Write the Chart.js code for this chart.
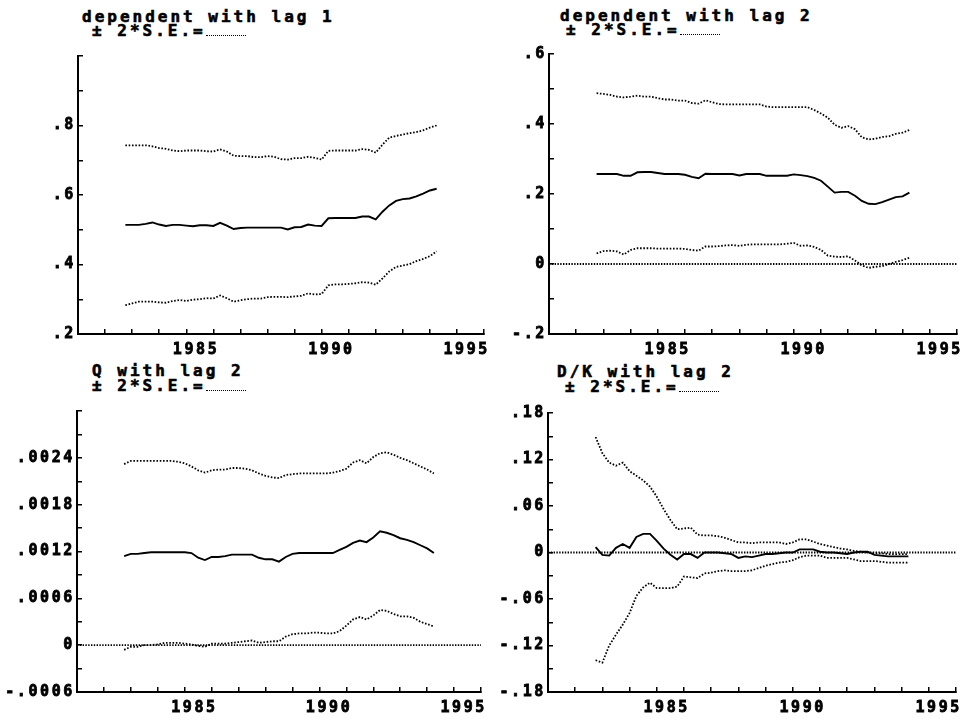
<!DOCTYPE html>
<html>
<head>
<meta charset="utf-8">
<script src="https://cdn.jsdelivr.net/npm/chart.js@4.4.0/dist/chart.umd.min.js"></script>
<style>
body { margin: 0; background: #fff; }
#page { position: relative; width: 964px; height: 720px; overflow: hidden; }
canvas { position: absolute; }
.ttl { position: absolute; font: bold 16px 'DejaVu Sans Mono', monospace; letter-spacing: 3px; line-height: 14px; white-space: pre; color: #000; -webkit-text-stroke: 0.6px #000; }
.key { display: inline-block; width: 40px; height: 0; border-bottom: 1.5px dotted #000; vertical-align: baseline; -webkit-text-stroke: 0; }
</style>
</head>
<body>
<div id="page">
  <div class="ttl" style="left:82px;top:10px">dependent with lag 1</div>
  <div class="ttl" style="left:92px;top:24px">± 2*S.E.=<span class="key"></span></div>
  <div class="ttl" style="left:560px;top:9px">dependent with lag 2</div>
  <div class="ttl" style="left:566px;top:23px">± 2*S.E.=<span class="key"></span></div>
  <div class="ttl" style="left:92px;top:364px">Q with lag 2</div>
  <div class="ttl" style="left:92px;top:379px">± 2*S.E.=<span class="key"></span></div>
  <div class="ttl" style="left:557px;top:365px">D/K with lag 2</div>
  <div class="ttl" style="left:565px;top:380px">± 2*S.E.=<span class="key"></span></div>

  <canvas id="c1" width="488" height="322" style="left:8px;top:40px"></canvas>
  <canvas id="c2" width="490" height="324" style="left:479px;top:38px"></canvas>
  <canvas id="c3" width="486" height="325" style="left:7px;top:395px"></canvas>
  <canvas id="c4" width="490" height="323" style="left:478px;top:397px"></canvas>
</div>
<script>
// quarterly dates of the recursive estimates
const years = [1981.75, 1982, 1982.25, 1982.5, 1982.75, 1983, 1983.25, 1983.5, 1983.75,
    1984, 1984.25, 1984.5, 1984.75, 1985, 1985.25, 1985.5, 1985.75, 1986, 1986.25, 1986.5, 1986.75,
    1987, 1987.25, 1987.5, 1987.75, 1988, 1988.25, 1988.5, 1988.75, 1989, 1989.25, 1989.5, 1989.75,
    1990, 1990.25, 1990.5, 1990.75, 1991, 1991.25, 1991.5, 1991.75, 1992, 1992.25, 1992.5, 1992.75,
    1993, 1993.25];

const xRange = [1980, 1995];
const xLabels = [1985, 1990, 1995];

// dependent with lag 1
const dep1 = [0.514,0.514,0.514,0.517,0.521,0.515,0.511,0.514,0.514,0.512,0.510,0.513,0.513,0.511,0.520,0.512,
    0.502,0.505,0.506,0.506,0.506,0.506,0.506,0.506,0.501,0.507,0.508,0.515,0.512,0.511,0.533,0.534,
    0.534,0.534,0.534,0.538,0.538,0.530,0.552,0.570,0.583,0.588,0.590,0.596,0.604,0.613,0.618];
const dep1Hi = [0.743,0.743,0.743,0.743,0.740,0.735,0.733,0.728,0.726,0.728,0.728,0.728,0.726,0.725,0.731,0.725,
    0.713,0.712,0.712,0.709,0.709,0.712,0.710,0.703,0.702,0.706,0.706,0.710,0.707,0.702,0.727,0.728,
    0.728,0.728,0.728,0.732,0.730,0.722,0.745,0.765,0.770,0.774,0.778,0.781,0.786,0.794,0.800];
const dep1Lo = [0.283,0.288,0.293,0.293,0.293,0.291,0.290,0.295,0.298,0.295,0.299,0.300,0.303,0.302,0.311,0.303,
    0.293,0.297,0.300,0.302,0.302,0.306,0.307,0.307,0.306,0.308,0.310,0.317,0.314,0.315,0.340,0.343,
    0.343,0.344,0.346,0.349,0.348,0.342,0.360,0.380,0.393,0.397,0.401,0.410,0.416,0.424,0.438];
const dep1Ticks = [0.2, 0.4, 0.6, 0.8];

// dependent with lag 2
const dep2 = [0.257,0.257,0.257,0.257,0.252,0.252,0.262,0.263,0.263,0.260,0.257,0.257,0.257,0.255,0.249,0.245,
    0.258,0.257,0.257,0.257,0.257,0.253,0.257,0.257,0.257,0.252,0.252,0.252,0.252,0.256,0.254,0.251,
    0.246,0.238,0.221,0.204,0.206,0.206,0.195,0.180,0.172,0.171,0.177,0.184,0.191,0.193,0.204];
const dep2Hi = [0.488,0.486,0.483,0.478,0.476,0.478,0.481,0.478,0.478,0.474,0.470,0.470,0.467,0.467,0.460,0.458,
    0.468,0.462,0.457,0.456,0.456,0.456,0.456,0.456,0.456,0.450,0.448,0.448,0.448,0.448,0.448,0.448,
    0.440,0.430,0.418,0.398,0.389,0.394,0.385,0.362,0.356,0.358,0.363,0.365,0.372,0.375,0.383];
const dep2Lo = [0.030,0.037,0.038,0.036,0.027,0.040,0.045,0.045,0.045,0.044,0.044,0.044,0.044,0.043,0.040,0.038,
    0.050,0.050,0.051,0.053,0.054,0.052,0.055,0.056,0.056,0.056,0.056,0.056,0.058,0.060,0.052,0.053,
    0.049,0.040,0.024,0.021,0.020,0.022,0.010,-0.004,-0.011,-0.008,-0.006,0.000,0.006,0.011,0.018];
const dep2Ticks = [-0.2, 0, 0.2, 0.4, 0.6];

// Q with lag 2
const q2 = [0.00114,0.00117,0.00117,0.00118,0.00119,0.00119,0.00119,0.00119,0.00119,0.00119,0.00118,0.00112,
    0.00109,0.00113,0.00113,0.00114,0.00116,0.00116,0.00116,0.00116,0.00112,0.00110,0.00110,0.00107,
    0.00113,0.00117,0.00118,0.00118,0.00118,0.00118,0.00118,0.00118,0.00122,0.00126,0.00131,0.00134,
    0.00132,0.00138,0.00146,0.00144,0.00141,0.00137,0.00135,0.00132,0.00128,0.00124,0.00118];
const q2Hi = [0.00232,0.00236,0.00236,0.00236,0.00236,0.00236,0.00236,0.00236,0.00235,0.00233,0.00229,0.00224,
    0.00221,0.00224,0.00225,0.00225,0.00227,0.00227,0.00226,0.00224,0.00220,0.00217,0.00215,0.00214,
    0.00218,0.00219,0.00220,0.00220,0.00220,0.00220,0.00220,0.00221,0.00223,0.00226,0.00234,0.00237,
    0.00233,0.00241,0.00246,0.00247,0.00244,0.00240,0.00237,0.00233,0.00229,0.00225,0.00220];
const q2Lo = [-0.00006,-0.00002,-0.00002,0.00000,0.00000,0.00001,0.00003,0.00003,0.00003,0.00002,0.00001,-0.00001,
    -0.00002,0.00002,0.00002,0.00002,0.00003,0.00004,0.00005,0.00006,0.00003,0.00004,0.00005,0.00005,
    0.00011,0.00014,0.00015,0.00015,0.00016,0.00016,0.00015,0.00015,0.00018,0.00025,0.00033,0.00036,
    0.00033,0.00038,0.00045,0.00044,0.00040,0.00037,0.00037,0.00035,0.00030,0.00027,0.00024];
const q2Ticks = [-0.0006, 0, 0.0006, 0.0012, 0.0018, 0.0024];

// D/K with lag 2
const dk2 = [0.007,-0.003,-0.004,0.006,0.011,0.006,0.020,0.024,0.024,0.015,0.005,-0.003,-0.009,-0.002,-0.002,
    -0.007,0.000,0.000,0.000,-0.001,-0.002,-0.007,-0.005,-0.006,-0.004,-0.002,-0.002,-0.001,0.000,0.000,
    0.004,0.004,0.004,0.001,0.000,0.000,-0.001,-0.002,0.000,0.001,0.001,-0.003,-0.004,-0.005,-0.005,-0.005,-0.005];
const dk2Hi = [0.149,0.128,0.116,0.112,0.116,0.105,0.099,0.093,0.085,0.072,0.056,0.042,0.030,0.031,0.032,
    0.023,0.022,0.022,0.021,0.019,0.016,0.013,0.013,0.012,0.013,0.013,0.013,0.013,0.011,0.013,
    0.017,0.017,0.014,0.011,0.009,0.007,0.005,0.004,0.002,0.001,0.000,-0.001,-0.001,-0.002,-0.002,-0.002,-0.002];
const dk2Lo = [-0.139,-0.142,-0.120,-0.106,-0.093,-0.078,-0.056,-0.045,-0.039,-0.046,-0.046,-0.046,-0.044,-0.031,-0.032,
    -0.033,-0.027,-0.026,-0.024,-0.023,-0.024,-0.024,-0.024,-0.023,-0.020,-0.017,-0.015,-0.013,-0.012,-0.010,
    -0.006,-0.004,-0.004,-0.004,-0.007,-0.007,-0.007,-0.007,-0.009,-0.011,-0.011,-0.011,-0.012,-0.013,-0.013,-0.013,-0.013];
const dk2Ticks = [-0.18, -0.12, -0.06, 0, 0.06, 0.12, 0.18];

const zero = [0, 0];

const tickFont = { family: "'DejaVu Sans Mono', monospace", size: 15, weight: 'bold' };

// wide look of the old bitmap font
const spacing = {
    id: 'spacing',
    beforeUpdate(chart) { chart.ctx.letterSpacing = '2.6px'; },
    beforeDraw(chart) { chart.ctx.letterSpacing = '2.6px'; }
};

function fmt(v) {
    const s = String(Number(v.toPrecision(6)));
    return s.replace(/^(-?)0\./, '$1.');
}

function pts(arr) {
    return years.map((x, i) => ({ x: x, y: arr[i] }));
}

function dotted(data, dash) {
    return { data: data, borderColor: '#000', borderWidth: 1.8, borderDash: dash, pointRadius: 0, tension: 0 };
}

function panel(id, mid, hi, lo, yMin, yMax, step, labels, withZero) {
    const datasets = [];
    if (withZero) {
        datasets.push(dotted(xRange.map((x, i) => ({ x: x, y: zero[i] })), [1.4, 1.4]));
    }
    datasets.push(dotted(pts(lo), [1.6, 1.7]));
    datasets.push(dotted(pts(hi), [1.6, 1.7]));
    datasets.push({ data: pts(mid), borderColor: '#000', borderWidth: 1.9, pointRadius: 0, tension: 0 });

    const grid = { drawOnChartArea: false, drawTicks: true, tickLength: -5, color: '#000', lineWidth: 1.5 };
    const border = { display: true, color: '#000', width: 2 };

    return new Chart(document.getElementById(id), {
        type: 'line',
        data: { datasets: datasets },
        options: {
            responsive: false,
            animation: false,
            devicePixelRatio: 1,
            layout: { padding: 0 },
            plugins: { legend: { display: false }, tooltip: { enabled: false } },
            scales: {
                x: {
                    type: 'linear', min: xRange[0], max: xRange[1],
                    grid: grid, border: border,
                    afterFit: (s) => { s.height = 28; },
                    ticks: {
                        stepSize: 1, autoSkip: false, maxRotation: 0, align: 'end', labelOffset: 6,
                        padding: 12, color: '#000', font: tickFont,
                        textStrokeColor: '#000', textStrokeWidth: 0.8,
                        callback: (v) => xLabels.includes(Math.round(v)) ? String(Math.round(v)) : ''
                    }
                },
                y: {
                    min: yMin, max: yMax,
                    grid: grid, border: border,
                    afterFit: (s) => { s.width = 70; },
                    ticks: {
                        stepSize: step, autoSkip: false, padding: 7, color: '#000', font: tickFont,
                        textStrokeColor: '#000', textStrokeWidth: 0.8,
                        callback: (v) => labels.some(l => Math.abs(l - v) < step / 10) ? fmt(v) : ''
                    }
                }
            }
        },
        plugins: [spacing]
    });
}

panel('c1', dep1, dep1Hi, dep1Lo, 0.2, 1.0, 0.1, dep1Ticks, false);
panel('c2', dep2, dep2Hi, dep2Lo, -0.2, 0.6, 0.1, dep2Ticks, true);
panel('c3', q2, q2Hi, q2Lo, -0.0006, 0.003, 0.0003, q2Ticks, true);
panel('c4', dk2, dk2Hi, dk2Lo, -0.18, 0.18, 0.03, dk2Ticks, true);
</script>
</body>
</html>
